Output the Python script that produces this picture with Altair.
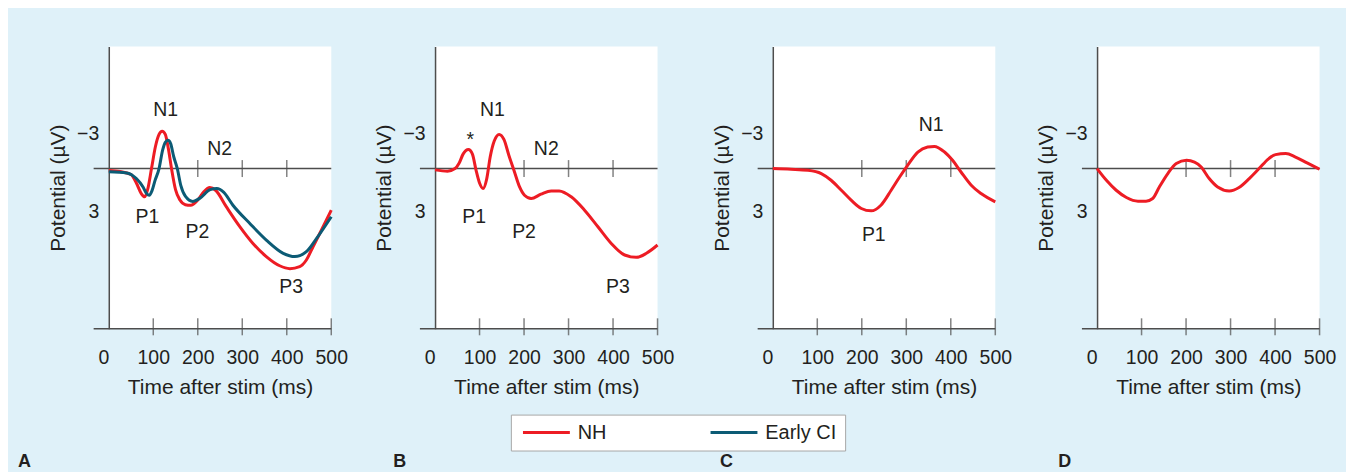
import altair as alt
import pandas as pd

FONT = "Liberation Sans"
BG = "#dff1f9"
RED = "#ed1c24"
TEAL = "#0c5b75"
INK = "#231f20"
AXIS = "#4d4d4d"

SERIES = ["NH", "Early CI"]
COLORS = [RED, TEAL]

X_TICKS = [0, 100, 200, 300, 400, 500]
BOTTOM_TICKS = [100, 200, 300, 400, 500]
ZERO_TICKS = [200, 300, 400]
Y_TICKS = [-3, 3]
X_DOMAIN = [0, 500]
Y_DOMAIN = [-9.3, 12.2]
AXIS_LEFT_EXT = -34

# Panel A
A_NH_T = [0, 25, 50, 62, 73, 81, 88, 96, 105, 113, 120, 127, 134, 141, 150, 160, 172, 184,
          200, 214, 227, 240, 264, 294, 324, 354, 384, 407, 429, 444, 459, 478, 500]
A_NH_V = [0.15, 0.22, 0.45, 1.1, 1.9, 2.15, 1.5, 0.0, -1.7, -2.6, -2.85, -2.6, -1.5, 0.0, 1.6, 2.4, 2.75, 2.8,
          2.4, 1.75, 1.45, 1.65, 2.9, 4.4, 5.7, 6.7, 7.4, 7.62, 7.47, 6.96, 5.95, 4.68, 3.17]
A_CI_T = [0, 40, 62, 77, 85, 91, 97, 104, 113, 121, 127, 133, 139, 146, 154, 162, 172, 189,
          205, 228, 243, 258, 279, 317, 354, 392, 418, 444, 467, 500]
A_CI_V = [0.25, 0.33, 0.76, 1.4, 1.9, 2.03, 1.7, 0.9, 0.0, -1.4, -2.0, -2.15, -1.9, -0.9, 0.0, 1.3, 2.1, 2.5,
          2.25, 1.6, 1.52, 1.8, 2.79, 4.18, 5.44, 6.45, 6.7, 6.33, 5.32, 3.67]
A_LABELS = ["N1", "N2", "P1", "P2", "P3"]
A_LABEL_T = [128, 249, 87, 199, 410]
A_LABEL_V = [-4.43, -1.52, 3.67, 4.81, 8.99]

# Panel B
B_NH_T = [0, 28, 45, 54, 63, 75, 84, 92, 100, 108, 116, 124, 133, 144, 155, 166, 178, 190,
          201, 216, 238, 261, 279, 306, 336, 366, 396, 426, 452, 475, 500]
B_NH_V = [0.1, 0.2, 0.0, -0.4, -1.1, -1.45, -1.1, 0.1, 1.1, 1.52, 0.8, -0.9, -2.1, -2.6, -2.2, -1.0, 0.2, 1.4,
          2.03, 2.28, 1.95, 1.7, 1.7, 2.15, 3.17, 4.43, 5.7, 6.58, 6.76, 6.45, 5.82]
B_LABELS = ["N1", "*", "N2", "P1", "P2", "P3"]
B_LABEL_T = [129, 79, 250, 88, 200, 411]
B_LABEL_V = [-4.43, -2.2, -1.52, 3.67, 4.81, 8.99]

# Panel C
C_NH_T = [0, 41, 79, 109, 131, 154, 176, 199, 221, 243, 266, 285, 303, 326, 348, 363, 386, 404,
          423, 446, 468, 500]
C_NH_V = [0.0, 0.05, 0.13, 0.38, 0.89, 1.65, 2.4, 3.04, 3.22, 2.79, 1.65, 0.64, -0.25, -1.26, -1.64, -1.69, -1.26, -0.63,
          0.26, 1.27, 1.9, 2.53]
C_LABELS = ["N1", "P1"]
C_LABEL_T = [356, 227]
C_LABEL_V = [-3.34, 5.06]

# Panel D
D_NH_T = [0, 21, 43, 66, 92, 110, 125, 140, 159, 178, 201, 219, 234, 252, 271, 297, 319, 342,
          364, 386, 401, 424, 446, 472, 500]
D_NH_V = [0.0, 0.89, 1.65, 2.2, 2.48, 2.48, 2.28, 1.4, 0.38, -0.38, -0.63, -0.5, -0.12, 0.76, 1.4, 1.7, 1.44, 0.76,
          0.0, -0.76, -1.06, -1.14, -0.88, -0.43, 0.05]
D_LABELS = []
D_LABEL_T = []
D_LABEL_V = []

PANEL_W = 223
PANEL_H = 283


def xenc(field="t"):
    return alt.X(
        f"{field}:Q",
        scale=alt.Scale(domain=X_DOMAIN, nice=False, zero=False),
        axis=alt.Axis(
            values=X_TICKS, title="Time after stim (ms)", domain=False, ticks=False, tickSize=0,
            grid=False, labelPadding=20, titlePadding=9.5, labelOverlap=False, labelFlush=False,
            labelAlign={"condition": {"test": "datum.value === 0", "value": "right"}, "value": "center"},
        ),
    )


def yenc():
    return alt.Y(
        "v:Q",
        scale=alt.Scale(domain=Y_DOMAIN, reverse=True, nice=False, zero=False),
        axis=alt.Axis(
            values=Y_TICKS, title="Potential (µV)", ticks=False, tickSize=0, grid=False,
            labelPadding=10, titlePadding=8, labelOffset=4, domainColor=AXIS, domainWidth=1.5,
        ),
    )


LEGEND = alt.Legend(
    orient="none", legendX=403, legendY=369, direction="horizontal", title=None,
    symbolType="M-1,0H7", symbolSize=138, symbolStrokeWidth=3,
    labelFont=FONT, labelFontSize=20, labelColor=INK, labelOffset=39,
    padding=8, fillColor="white", strokeColor="#a8a8a8", columnPadding=98,
)


def panel(curves, lab, lab_t, lab_v, letter, letter_dx):
    frames = []
    for name, ts, vs in curves:
        frames.append(pd.DataFrame({"t": ts, "v": vs, "series": name}))
    curve_df = pd.concat(frames, ignore_index=True)

    zero_df = pd.DataFrame({"t": [AXIS_LEFT_EXT], "t2": [X_DOMAIN[1]], "v": [0]})
    bottom_df = pd.DataFrame({"t": [AXIS_LEFT_EXT], "t2": [X_DOMAIN[1]], "v": [Y_DOMAIN[1]]})
    zt_df = pd.DataFrame({"t": ZERO_TICKS, "v": [0] * len(ZERO_TICKS)})
    bt_df = pd.DataFrame({"t": BOTTOM_TICKS, "v": [Y_DOMAIN[1]] * len(BOTTOM_TICKS)})
    lab_df = pd.DataFrame({"t": lab_t, "v": lab_v, "label": lab})

    zero_rule = alt.Chart(zero_df).mark_rule(color=AXIS, strokeWidth=1.5).encode(
        x=xenc(), x2=alt.X2("t2:Q"), y=yenc())
    bottom_rule = alt.Chart(bottom_df).mark_rule(color=AXIS, strokeWidth=1.5).encode(
        x=xenc(), x2=alt.X2("t2:Q"), y=yenc())
    zticks = alt.Chart(zt_df).mark_tick(orient="vertical", size=17, thickness=1.5, color=AXIS).encode(
        x=xenc(), y=yenc())
    bticks = alt.Chart(bt_df).mark_tick(orient="vertical", size=17, thickness=1.5, color=AXIS, yOffset=-2).encode(
        x=xenc(), y=yenc())
    lines = alt.Chart(curve_df).mark_line(interpolate="monotone", strokeWidth=3).encode(
        x=xenc(), y=yenc(),
        color=alt.Color("series:N", scale=alt.Scale(domain=SERIES, range=COLORS), legend=LEGEND),
        detail="series:N",
    )
    layers = [zero_rule, bottom_rule, zticks, bticks, lines]
    if lab:
        texts = alt.Chart(lab_df).mark_text(font=FONT, fontSize=19.5, color=INK, align="center",
                                           baseline="middle").encode(x=xenc(), y=yenc(), text="label:N")
        layers.append(texts)
    return alt.layer(*layers).properties(
        width=PANEL_W, height=PANEL_H,
        title=alt.TitleParams(letter, orient="bottom", anchor="start", frame="group", dx=letter_dx,
                              offset=56, fontSize=18, fontWeight="bold", font=FONT, color=INK),
    )


pA = panel([("NH", A_NH_T, A_NH_V), ("Early CI", A_CI_T, A_CI_V)], A_LABELS, A_LABEL_T, A_LABEL_V, "A", -91)
pB = panel([("NH", B_NH_T, B_NH_V)], B_LABELS, B_LABEL_T, B_LABEL_V, "B", -42)
pC = panel([("NH", C_NH_T, C_NH_V)], C_LABELS, C_LABEL_T, C_LABEL_V, "C", -53)
pD = panel([("NH", D_NH_T, D_NH_V)], D_LABELS, D_LABEL_T, D_LABEL_V, "D", -39)

chart = alt.hconcat(
    alt.hconcat(pA, pB, spacing=25),
    alt.hconcat(pC, pD, spacing=23),
    spacing=36.5,
).properties(
    background=BG,
    padding={"left": 10, "top": 38, "right": 10, "bottom": 0},
).configure_axis(
    labelFont=FONT, titleFont=FONT, labelFontSize=19.5, titleFontSize=21,
    labelColor=INK, titleColor=INK, titleFontWeight="normal",
    domainColor=AXIS, domainWidth=1.5,
).configure_view(fill="white", strokeWidth=0)

chart.save("out.html", embed_options={"renderer": "svg", "actions": False})
